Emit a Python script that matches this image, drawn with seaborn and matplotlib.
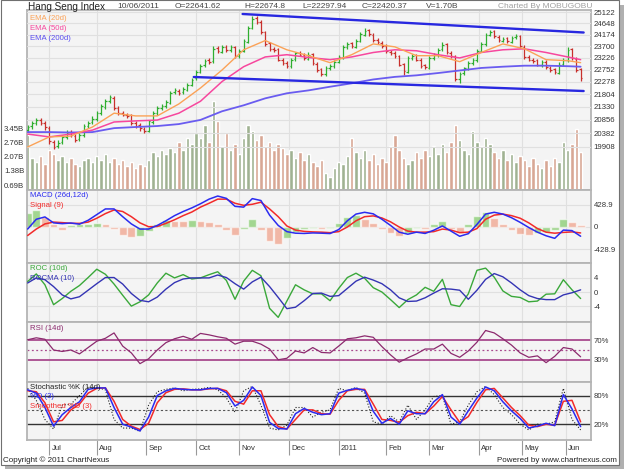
import numpy as np
import matplotlib
matplotlib.use("Agg")
import matplotlib.pyplot as plt
import matplotlib.transforms as mtransforms
from matplotlib.patches import Rectangle
from matplotlib.ticker import NullLocator, NullFormatter
import seaborn as sns

# ---- data (x = trading-session index from 17 Jun 2010) ----
bar_idx = list(range(0, 257, 2))   # one OHLC bar per two sessions
bar_open = [20500, 20620, 20740, 20860, 20730, 20560, 20080, 19930, 20070, 20230,
            20420, 20280, 20170, 20320, 20630, 20770, 20880, 21120, 21330, 21560,
            21680, 21280, 21120, 21030, 21020, 20730, 20670, 20530, 20470, 20780,
            21120, 21280, 21370, 21480, 21870, 21930, 21870, 21980, 22170, 22420,
            22680, 22920, 23120, 23080, 23620, 23480, 23670, 23530, 23670, 23280,
            23520, 23880, 24470, 24880, 24720, 24280, 23820, 23580, 23570, 23130,
            23020, 22880, 23170, 23420, 23330, 23180, 23370, 22980, 22770, 22580,
            22820, 22880, 23070, 23230, 23670, 23820, 23680, 23920, 24180, 24370,
            24180, 23970, 23830, 23720, 23480, 23420, 23280, 22970, 22680, 23220,
            23320, 23130, 22920, 22830, 23220, 23330, 23570, 23770, 23430, 23280,
            22380, 22620, 22780, 23020, 23130, 23520, 23780, 24170, 24320, 24080,
            23930, 24020, 23880, 24070, 24120, 23680, 23270, 23130, 23120, 22930,
            23070, 22830, 22770, 22630, 22970, 23130, 23570, 23180, 22770]
bar_high = [20680, 20830, 20930, 20920, 20800, 20640, 20150, 20130, 20330, 20510,
            20480, 20350, 20370, 20720, 20830, 20980, 21170, 21430, 21640, 21780,
            21740, 21360, 21190, 21110, 21080, 20810, 20730, 20600, 20870, 21170,
            21380, 21430, 21580, 21920, 22030, 22010, 22080, 22230, 22420, 22720,
            22980, 23180, 23200, 23700, 23690, 23740, 23730, 23750, 23720, 23580,
            23980, 24550, 24990, 24960, 24780, 24350, 23890, 23680, 23620, 23210,
            23080, 23230, 23480, 23490, 23400, 23440, 23420, 23050, 22830, 22880,
            22970, 23120, 23320, 23730, 23880, 23890, 23980, 24280, 24440, 24430,
            24250, 24040, 23900, 23780, 23560, 23490, 23340, 23030, 23280, 23380,
            23390, 23200, 22990, 23280, 23430, 23630, 23850, 23830, 23510, 23330,
            22680, 22870, 23080, 23220, 23580, 23890, 24240, 24390, 24380, 24160,
            24090, 24080, 24130, 24190, 24180, 23750, 23340, 23210, 23180, 23130,
            23120, 22910, 22830, 23040, 23230, 23680, 23620, 23260, 22800]
bar_low = [20420, 20540, 20660, 20680, 20510, 20010, 19820, 19860, 19990, 20170,
           20230, 20070, 20100, 20260, 20570, 20700, 20820, 21050, 21270, 21490,
           21220, 21030, 20980, 20930, 20680, 20580, 20470, 20380, 20410, 20720,
           21050, 21220, 21300, 21420, 21800, 21780, 21800, 21920, 22100, 22350,
           22620, 22850, 22980, 23020, 23420, 23420, 23480, 23470, 23220, 23220,
           23450, 23820, 24400, 24620, 24220, 23720, 23520, 23470, 23080, 22920,
           22810, 22820, 23100, 23280, 23130, 23120, 22930, 22670, 22500, 22520,
           22750, 22820, 23000, 23170, 23600, 23630, 23620, 23850, 24120, 24130,
           23880, 23780, 23630, 23430, 23330, 23230, 22880, 22560, 22620, 23150,
           23080, 22830, 22760, 22770, 23150, 23270, 23500, 23380, 23220, 22300,
           22240, 22540, 22720, 22950, 23070, 23450, 23720, 24100, 24030, 23880,
           23860, 23830, 23820, 23990, 23630, 23170, 23080, 23030, 22880, 22870,
           22780, 22680, 22570, 22570, 22900, 23070, 23130, 22680, 22300]
bar_close = [20600, 20750, 20850, 20750, 20600, 20100, 19900, 20050, 20250, 20400,
             20300, 20150, 20300, 20650, 20750, 20900, 21100, 21350, 21550, 21700,
             21300, 21100, 21050, 21000, 20750, 20650, 20550, 20450, 20800, 21100,
             21300, 21350, 21500, 21850, 21950, 21850, 22000, 22150, 22350, 22650,
             22900, 23100, 23050, 23600, 23500, 23650, 23550, 23650, 23300, 23500,
             23900, 24450, 24850, 24700, 24300, 23800, 23600, 23550, 23150, 23000,
             22900, 23150, 23400, 23350, 23200, 23350, 23000, 22750, 22600, 22800,
             22900, 23050, 23250, 23650, 23800, 23700, 23900, 24200, 24350, 24200,
             23950, 23850, 23700, 23500, 23400, 23300, 22950, 22700, 23200, 23300,
             23150, 22900, 22850, 23200, 23350, 23550, 23750, 23450, 23300, 22400,
             22600, 22800, 23000, 23150, 23500, 23800, 24150, 24300, 24100, 23950,
             24000, 23900, 24050, 24100, 23700, 23250, 23150, 23100, 22950, 23050,
             22850, 22750, 22650, 22950, 23150, 23550, 23200, 22750, 22420]
volume_b = [3.1, 2.0, 1.8, 2.1, 1.7, 2.4, 2.2, 1.9, 2.1, 1.8,
            2.0, 1.7, 1.6, 1.9, 2.0, 1.8, 2.1, 1.9, 2.2, 1.8,
            2.0, 1.7, 1.9, 1.6, 1.8, 1.5, 1.7, 1.6, 1.9, 2.3,
            2.1, 2.4, 2.2, 2.5, 2.3, 2.8, 2.4, 3.0, 2.7, 3.2,
            3.0, 3.6, 2.8, 4.8, 3.8, 2.6, 3.2, 2.4, 2.7, 2.2,
            3.0, 3.6, 3.3, 2.9, 3.1, 2.6, 2.8, 2.4, 2.7, 2.5,
            2.2, 2.4, 2.0, 2.3, 1.9, 2.2, 1.8, 1.6, 1.9, 1.3,
            1.1, 1.5, 1.8, 1.7, 2.1, 3.0, 2.3, 2.0, 2.4, 1.9,
            2.2, 1.7, 2.0, 1.8, 2.6, 3.1, 2.4, 2.0, 1.7, 1.9,
            2.3, 2.0, 2.4, 2.1, 2.6, 2.2, 2.7, 2.3, 2.8, 3.6,
            2.9, 2.4, 2.2, 3.3, 2.8, 2.6, 3.0, 2.7, 2.3, 2.0,
            2.4, 1.9, 2.2, 1.8, 2.1, 1.9, 1.6, 2.0, 1.7, 1.5,
            1.9, 1.6, 2.0, 1.8, 2.8, 2.4, 2.7, 3.4, 2.3]

ema_idx = list(range(0, 251, 10)) + [256]
ema20 = [19900, 20250, 20280, 20600, 21100, 21000, 21000, 21440, 22040, 22740,
         23550, 23930, 23550, 23310, 23030, 23350, 23790, 23670, 23310, 23310,
         23070, 23440, 23790, 23590, 23150, 23110, 23030]
ema50 = [20350, 20250, 20350, 20490, 20780, 20820, 20850, 21100, 21540, 22290,
         22870, 23260, 23350, 23240, 23150, 23260, 23440, 23550, 23510, 23350,
         23220, 23440, 23550, 23590, 23440, 23260, 23150]
ema200 = [20420, 20420, 20405, 20420, 20560, 20600, 20635, 20705, 20855, 21170,
          21390, 21650, 21840, 21950, 22090, 22220, 22370, 22470, 22530, 22620,
          22720, 22820, 22870, 22910, 22910, 22890, 22870]

trend_up_idx = [99.5, 257.4]
trend_up_val = [25057, 24266]
trend_lo_idx = [76.9, 257.4]
trend_lo_val = [22465, 21926]

osc_idx = list(range(0, 257, 4))
macd = [-40, 150, 195, 80, 65, 77, 55, 130, 240, 350,
        350, 200, 60, -40, -40, 30, 120, 220, 300, 370,
        450, 540, 600, 555, 400, 385, 550, 513, 230, 30,
        -90, -120, -125, -115, -120, -127, -50, 120, 250, 285,
        255, 150, 30, -100, -140, -100, -125, -63, 20, -80,
        -180, -130, 50, 250, 285, 250, 180, 90, -10, -100,
        -170, -220, -60, -70, -179]
signal = [-165, -40, 60, 95, 85, 72, 70, 95, 170, 260,
          330, 300, 200, 80, 5, 10, 70, 140, 220, 290,
          385, 460, 540, 540, 460, 420, 440, 481, 350, 200,
          20, -60, -85, -95, -100, -110, -90, 0, 120, 200,
          215, 175, 100, 0, -80, -100, -100, -90, -40, -60,
          -110, -100, -30, 150, 230, 250, 220, 170, 80, -30,
          -100, -120, -105, -95, -115]
macd_hist = [280, 320, 200, 60, -50, 40, 50, 60, 80, 60,
             -40, -150, -190, -170, -80, 60, 140, 120, 110, 130,
             110, 100, 60, -60, -150, -40, 150, -60, -280, -320,
             -220, -100, -40, -20, -30, -10, 80, 200, 230, 150,
             80, -40, -120, -170, -110, -20, -40, 50, 110, -40,
             -120, 60, 220, 300, 180, 60, -60, -130, -150, -110,
             -90, -60, 160, 90, 40]
roc = [2.9, 5.0, 2.0, -3.5, -1.8, 0.2, 1.8, 4.0, 6.3, 4.9,
       2.2, -0.9, -3.9, -2.7, -0.8, 2.5, 5.2, 3.9, 4.8, 3.6,
       3.9, 4.8, 5.6, 3.2, -2.0, 3.0, 6.0, 4.5, -4.5, -7.0,
       -2.5, 2.0, 0.6, -0.5, -0.5, -2.4, 1.0, 4.0, 5.2, 3.8,
       1.2, 0.0, -2.1, -4.3, -2.1, -0.8, 1.3, 0.2, 3.5, -3.5,
       -4.0, -0.5, 6.0, 6.6, 4.1, 0.3, -1.2, -1.5, -2.7, -2.5,
       -0.6, -0.5, 3.4, 0.6, -1.8]
rocma = [2.5, 3.9, 3.4, 1.5, -0.8, -1.9, -1.3, 0.5, 2.3, 4.0,
         4.0, 2.2, -0.4, -2.3, -2.7, -1.4, 0.8, 2.6, 3.6, 3.9,
         3.9, 3.9, 4.7, 4.0, 2.3, 0.8, 2.8, 4.1, 1.5, -1.5,
         -4.6, -4.2, -2.4, -0.4, -0.3, -1.2, -1.0, 1.0, 3.0, 4.1,
         3.3, 2.3, 0.6, -1.6, -2.6, -2.5, -1.6, -0.3, 0.9, 0.8,
         0.5, -2.0, 0.5, 3.5, 5.1, 4.2, 2.5, 0.6, -1.0, -1.8,
         -2.1, -2.1, -0.8, -0.2, 0.6]
rsi = [71, 75, 72, 50, 47, 50, 42, 55, 68, 74,
       85, 58, 44, 22, 32, 50, 65, 73, 78, 72,
       84, 81, 77, 74, 62, 68, 68, 62, 52, 30,
       33, 48, 44, 55, 45, 44, 58, 73, 75, 79,
       76, 57, 40, 25, 34, 42, 52, 52, 62, 43,
       35, 48, 66, 90, 85, 73, 60, 44, 35, 38,
       24, 37, 55, 52, 36]
stoch_k = [95, 70, 30, 10, 60, 62, 80, 97, 97, 92,
           30, 12, 12, 5, 60, 88, 93, 96, 90, 93,
           94, 97, 92, 75, 45, 90, 99, 60, 12, 8,
           18, 55, 55, 35, 45, 50, 95, 90, 97, 85,
           25, 20, 38, 25, 60, 30, 50, 78, 80, 20,
           25, 60, 88, 99, 82, 55, 40, 20, 8, 20,
           20, 25, 95, 30, 8]
stoch_d = [92, 85, 55, 16, 40, 55, 67, 93, 96, 96,
           55, 20, 14, 6, 35, 80, 90, 95, 93, 92,
           92, 95, 95, 86, 58, 70, 98, 80, 24, 11,
           10, 42, 53, 45, 40, 42, 85, 91, 95, 91,
           47, 22, 32, 20, 48, 42, 42, 67, 82, 35,
           20, 48, 75, 98, 90, 67, 48, 32, 12, 16,
           22, 17, 82, 52, 15]
stoch_sd = [90, 88, 65, 25, 28, 50, 62, 85, 95, 96,
            68, 30, 16, 9, 22, 65, 86, 93, 94, 92,
            92, 94, 95, 90, 68, 62, 90, 90, 40, 15,
            10, 30, 50, 50, 42, 41, 70, 90, 93, 93,
            62, 30, 28, 24, 38, 45, 42, 58, 78, 50,
            24, 36, 66, 92, 95, 75, 55, 38, 18, 15,
            20, 18, 68, 70, 25]

month_pos = [10, 32, 55, 78, 98, 121, 144, 166, 186, 209, 229, 249]
month_lab = ['Jul', 'Aug', 'Sep', 'Oct', 'Nov', 'Dec', '2011', 'Feb', 'Mar', 'Apr', 'May', 'Jun']
price_ticks = [25122, 24648, 24174, 23700, 23226, 22752, 22278, 21804, 21330, 20856, 20382, 19908]
vol_ticks = [0.69, 1.38, 2.07, 2.76, 3.45]

# ---- style ----
sns.set_theme(style="ticks")
plt.rcParams['font.family'] = ['Liberation Sans', 'DejaVu Sans']

W, H = 624, 469
BG = '#f4f4f4'
GRID = '#e0e0e0'
EDGE = '#b4b4b4'
UP, DOWN = '#2fae2f', '#c8302c'
TXT = '#333333'
FS = 5.6

fig = plt.figure(figsize=(W / 100, H / 100), dpi=100)
fig.patch.set_facecolor('white')
fig.add_artist(Rectangle((5 / W, 0), 1 - 5 / W, 1 - 5 / H, transform=fig.transFigure,
                         facecolor='#b0b0b0', edgecolor='none', zorder=-20))
fig.add_artist(Rectangle((0.5 / W, 4 / H), 618 / W, 464.5 / H, transform=fig.transFigure,
                         facecolor='white', edgecolor='#707070', lw=0.8, zorder=-10))


def ftext(x, y, s, **kw):
    kw.setdefault('fontsize', FS)
    kw.setdefault('va', 'center')
    return fig.text(x / W, 1 - y / H, s, **kw)


def panel(top, bottom):
    ax = fig.add_axes([27 / W, 1 - bottom / H, (591 - 27) / W, (bottom - top) / H])
    ax.set_facecolor(BG)
    for sp in ax.spines.values():
        sp.set_color(EDGE)
        sp.set_linewidth(1.3)
    ax.set_xlim(-0.3, 260.8)
    ax.set_xticks(month_pos)
    ax.set_xticklabels([])
    ax.tick_params(axis='x', length=0)
    ax.grid(axis='x', color=GRID, lw=0.8)
    ax.yaxis.tick_right()
    ax.tick_params(axis='y', length=0, pad=2, labelsize=FS, labelcolor=TXT)
    return ax


# ---- price + volume ----
ax_vol = panel(10, 190)
ax_vol.yaxis.tick_left()
ax_vol.tick_params(axis='y', length=0, pad=2, labelsize=FS, labelcolor=TXT)
up = np.array(bar_close) >= np.array(bar_open)
ax_vol.bar(bar_idx, volume_b, width=1.6, color=np.where(up, '#a0b292', '#d8a795'), zorder=2)
ax_vol.set_ylim(0.45, 9.2)
ax_vol.set_yticks(vol_ticks)
ax_vol.set_yticklabels([f"{v:.2f}B" for v in vol_ticks])

ax_p = ax_vol.twinx()
ax_p.set_yscale('log')
ax_p.set_ylim(18470, 25231)
ax_p.set_yticks(price_ticks)
ax_p.set_yticklabels([str(v) for v in price_ticks])
ax_p.yaxis.set_minor_locator(NullLocator())
ax_p.yaxis.set_minor_formatter(NullFormatter())
ax_p.tick_params(axis='y', length=0, pad=2, labelsize=FS, labelcolor=TXT)
ax_p.grid(axis='y', color=GRID, lw=0.8)
for sp in ax_p.spines.values():
    sp.set_visible(False)

bx = np.array(bar_idx)
cols = np.where(up, UP, DOWN)
ax_p.vlines(bx, bar_low, bar_high, colors=cols, lw=0.9, zorder=3)
ax_p.hlines(bar_open, bx - 0.75, bx, colors=cols, lw=0.9, zorder=3)
ax_p.hlines(bar_close, bx, bx + 0.75, colors=cols, lw=0.9, zorder=3)

sns.lineplot(x=ema_idx, y=ema200, ax=ax_p, color='#6a5cf0', lw=1.3, zorder=4)
sns.lineplot(x=ema_idx, y=ema50, ax=ax_p, color='#f7479e', lw=1.1, zorder=4)
sns.lineplot(x=ema_idx, y=ema20, ax=ax_p, color='#fba257', lw=1.0, zorder=4)
sns.lineplot(x=trend_up_idx, y=trend_up_val, ax=ax_p, color='#2828e0', lw=1.7, zorder=5)
sns.lineplot(x=trend_lo_idx, y=trend_lo_val, ax=ax_p, color='#2828e0', lw=1.7, zorder=5)
ax_p.set_xlim(-0.3, 260.8)
ax_p.set_xlabel('')
ax_p.set_ylabel('')

# ---- MACD ----
ax_m = panel(190, 262.7)
hist_cols = ['#6cc24e' if (i == 0 or macd_hist[i] >= macd_hist[i - 1]) else '#ef8f72'
             for i in range(len(macd_hist))]
ax_m.bar(osc_idx, macd_hist, width=3.6, color=hist_cols, alpha=0.6, zorder=2)
sns.lineplot(x=osc_idx, y=signal, ax=ax_m, color='#f22a2a', lw=1.1, zorder=3)
sns.lineplot(x=osc_idx, y=macd, ax=ax_m, color='#2b2bf0', lw=1.1, zorder=3)
ax_m.set_ylim(-692, 717)
ax_m.set_yticks([428.9, 0, -428.9])
ax_m.set_yticklabels(['428.9', '0', '-428.9'])
ax_m.grid(axis='y', color=GRID, lw=0.8)

# ---- ROC ----
ax_r = panel(262.7, 321.7)
sns.lineplot(x=osc_idx, y=roc, ax=ax_r, color='#3aa83a', lw=1.0, zorder=3)
sns.lineplot(x=osc_idx, y=rocma, ax=ax_r, color='#3434b4', lw=1.0, zorder=3)
ax_r.set_ylim(-8.2, 8.1)
ax_r.set_yticks([4, 0, -4])
ax_r.set_yticklabels(['4', '0', '-4'])
ax_r.grid(axis='y', color=GRID, lw=0.8)

# ---- RSI ----
ax_s = panel(321.7, 381.7)
for lvl in (70, 30):
    ax_s.axhline(lvl, color='#a84a8e', lw=1.3, zorder=2)
ax_s.axhline(50, color='#a84a8e', lw=0.9, ls=(0, (1.5, 2)), zorder=2)
sns.lineplot(x=osc_idx, y=rsi, ax=ax_s, color='#8c2a6e', lw=0.9, zorder=3)
ax_s.set_ylim(-15, 108)
ax_s.set_yticks([70, 30])
ax_s.set_yticklabels(['70%', '30%'])

# ---- Stochastic ----
ax_k = panel(381.7, 440)
for lvl in (80, 20):
    ax_k.axhline(lvl, color='#333333', lw=1.0, zorder=2)
ax_k.axhline(50, color='#555555', lw=0.8, ls=(0, (2, 2)), zorder=2)
sns.lineplot(x=osc_idx, y=stoch_k, ax=ax_k, color='#222222', lw=0.8, ls=':', zorder=3)
sns.lineplot(x=osc_idx, y=stoch_sd, ax=ax_k, color='#f22a2a', lw=1.1, zorder=3)
sns.lineplot(x=osc_idx, y=stoch_d, ax=ax_k, color='#2b2bf0', lw=1.1, zorder=3)
ax_k.set_ylim(-13, 109)
ax_k.set_yticks([80, 20])
ax_k.set_yticklabels(['80%', '20%'])
ax_k.tick_params(axis='x', length=11, direction='out', color='#999999', width=0.8)
tr = mtransforms.blended_transform_factory(ax_k.transData, fig.transFigure)
for pos, lab in zip(month_pos, month_lab):
    ax_k.text(pos + 1.1, 1 - 448 / H, lab, transform=tr, fontsize=FS, color=TXT,
              ha='left', va='center')

for ax in (ax_m, ax_r, ax_s, ax_k):
    ax.set_xlabel('')
    ax.set_ylabel('')

# ---- header, legends, footer ----
ftext(28, 7, 'Hang Seng Index', fontsize=7.2, color='#222222')
for x, s in [(117, '10/06/2011'), (175, 'O=22641.62'), (244, 'H=22674.8'),
             (302, 'L=22297.94'), (362, 'C=22420.37'), (426, 'V=1.70B')]:
    ftext(x, 7, s, fontsize=6.0, color='#444444')
ftext(592, 7, 'Charted By MOBUGOBU', fontsize=6.0, color='#a0a0a0', ha='right')

ftext(30, 18.3, 'EMA (20d)', color='#fba257')
ftext(30, 28.3, 'EMA (50d)', color='#f7479e')
ftext(30, 38.3, 'EMA (200d)', color='#5b4ef0')
ftext(30, 195.5, 'MACD (26d,12d)', color='#2b2bf0')
ftext(30, 205, 'Signal (9)', color='#f22a2a')
ftext(30, 268.5, 'ROC (10d)', color='#3aa83a')
ftext(30, 278.3, 'ROCMA (10)', color='#3434b4')
ftext(30, 328.3, 'RSI (14d)', color='#8c2a6e')
ftext(30, 387.7, 'Stochastic %K (14d)', color='#222222')
ftext(30, 396.7, '%D (3)', color='#2b2bf0')
ftext(30, 406.3, 'Smoothed %D (3)', color='#f22a2a')

ftext(3, 460.5, 'Copyright \u00a9 2011 ChartNexus', fontsize=5.8, color='#222222')
ftext(617, 460, 'Powered by www.chartnexus.com', fontsize=5.8, color='#222222', ha='right')

fig.savefig('out.png', dpi=100)
